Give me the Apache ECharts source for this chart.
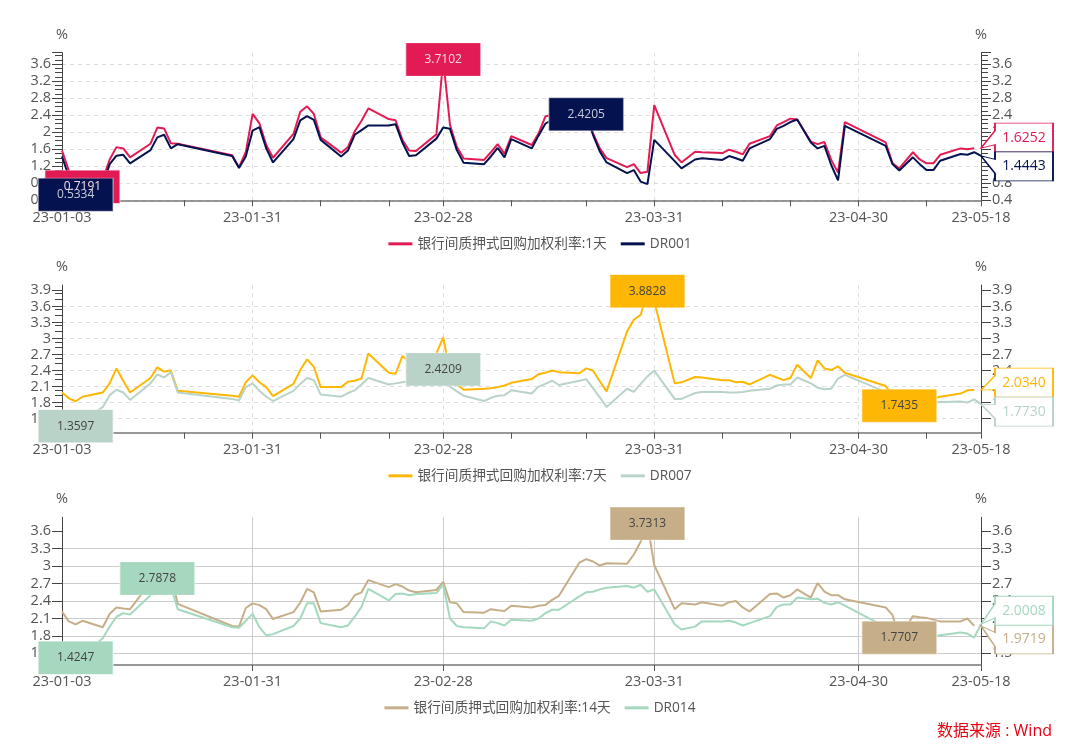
<!DOCTYPE html>
<html>
<head>
<meta charset="utf-8">
<title>银行间质押式回购加权利率与DR</title>
<style>
  html, body { margin: 0; padding: 0; background: #fff; }
  #chart { width: 1080px; height: 751px; }
</style>
<script src="https://cdn.jsdelivr.net/npm/echarts@6/dist/echarts.min.js"></script>
</head>
<body>
<div id="chart"></div>
<script>
// ============================================================
// 数据
// ============================================================

var dates = [
  '2023-01-03', '2023-01-04', '2023-01-05', '2023-01-06', '2023-01-09', '2023-01-10', '2023-01-11',
  '2023-01-12', '2023-01-13', '2023-01-16', '2023-01-17', '2023-01-18', '2023-01-19', '2023-01-20',
  '2023-01-28', '2023-01-29', '2023-01-30', '2023-01-31',
  '2023-02-01', '2023-02-02', '2023-02-03', '2023-02-06', '2023-02-07', '2023-02-08', '2023-02-09',
  '2023-02-10', '2023-02-13', '2023-02-14', '2023-02-15', '2023-02-16', '2023-02-17', '2023-02-20',
  '2023-02-21', '2023-02-22', '2023-02-23', '2023-02-24', '2023-02-27', '2023-02-28',
  '2023-03-01', '2023-03-02', '2023-03-03', '2023-03-06', '2023-03-07', '2023-03-08', '2023-03-09',
  '2023-03-10', '2023-03-13', '2023-03-14', '2023-03-15', '2023-03-16', '2023-03-17', '2023-03-20',
  '2023-03-21', '2023-03-22', '2023-03-23', '2023-03-24', '2023-03-27', '2023-03-28', '2023-03-29',
  '2023-03-30', '2023-03-31',
  '2023-04-03', '2023-04-04', '2023-04-06', '2023-04-07', '2023-04-10', '2023-04-11', '2023-04-12',
  '2023-04-13', '2023-04-14', '2023-04-17', '2023-04-18', '2023-04-19', '2023-04-20', '2023-04-21',
  '2023-04-23', '2023-04-24', '2023-04-25', '2023-04-26', '2023-04-27', '2023-04-28',
  '2023-05-04', '2023-05-05', '2023-05-06', '2023-05-08', '2023-05-09', '2023-05-10', '2023-05-11',
  '2023-05-12', '2023-05-15', '2023-05-16', '2023-05-17', '2023-05-18'
];

var repo1d = [
  1.57, 1.10, 0.85, 0.7191, 0.90, 1.36, 1.65, 1.62, 1.41, 1.73, 2.11, 2.09, 1.74, 1.73,
  1.46, 1.18, 1.54, 2.43,
  2.21, 1.70, 1.40, 1.96, 2.48, 2.61, 2.43, 1.88, 1.52, 1.65, 2.02, 2.27, 2.56, 2.31, 2.28, 1.82, 1.57, 1.56, 1.95, 3.7102,
  2.17, 1.66, 1.38, 1.35, 1.53, 1.72, 1.49, 1.91, 1.70, 1.97, 2.37, 2.42, 2.48, 2.55, 2.60, 1.98, 1.62, 1.39, 1.18, 1.25, 1.04, 1.07, 2.64,
  1.47, 1.29, 1.54, 1.53, 1.51, 1.59, 1.54, 1.48, 1.73, 1.91, 2.16, 2.24, 2.32, 2.30, 1.78, 1.72, 1.77, 1.35, 1.05, 2.24,
  1.76, 1.27, 1.15, 1.53, 1.36, 1.27, 1.27, 1.47, 1.62, 1.60, 1.6252, null
];
var dr001 = [
  1.43, 0.96, 0.5334, 0.60, 0.75, 1.25, 1.45, 1.47, 1.27, 1.58, 1.88, 1.94, 1.62, 1.72,
  1.44, 1.16, 1.43, 2.04,
  2.12, 1.62, 1.29, 1.84, 2.28, 2.38, 2.29, 1.82, 1.43, 1.57, 1.94, 2.05, 2.16, 2.16, 2.19, 1.76, 1.44, 1.46, 1.85, 2.11,
  2.08, 1.58, 1.28, 1.25, 1.43, 1.63, 1.41, 1.84, 1.62, 1.92, 2.20, 2.30, 2.35, 2.40, 2.4205, 1.94, 1.55, 1.29, 1.04, 1.11, 0.84, 0.78, 1.82,
  1.32, 1.15, 1.36, 1.39, 1.35, 1.44, 1.39, 1.33, 1.62, 1.84, 2.08, 2.15, 2.24, 2.30, 1.76, 1.62, 1.68, 1.23, 0.87, 2.15,
  1.68, 1.25, 1.10, 1.41, 1.25, 1.11, 1.11, 1.33, 1.49, 1.47, 1.53, 1.4443
];
var repo7d = [
  1.99, 1.88, 1.825, 1.91, 1.99, 2.16, 2.44, 2.21, 1.99, 2.26, 2.46, 2.38, 2.40, 2.02,
  1.93, 1.91, 2.18, 2.31,
  2.18, 2.09, 1.92, 2.15, 2.41, 2.61, 2.47, 2.09, 2.09, 2.19, 2.21, 2.25, 2.72, 2.36, 2.34, 2.67, 2.57, 2.40, 2.72, 3.02,
  2.35, 2.15, 2.04, 2.06, 2.07, 2.09, 2.12, 2.17, 2.24, 2.33, 2.36, 2.40, 2.37, 2.35, 2.44, 2.40, 2.20, 2.01, 3.13, 3.35, 3.44, 3.8828, 3.70,
  2.16, 2.18, 2.28, 2.27, 2.22, 2.22, 2.18, 2.19, 2.14, 2.32, 2.27, 2.22, 2.26, 2.51, 2.26, 2.59, 2.44, 2.41, 2.48, 2.36,
  2.11, 1.94, 1.7435, 1.85, 1.85, 1.86, 1.88, 1.91, 1.97, 2.03, 2.034, null
];
var dr007 = [
  1.62, 1.50, 1.3597, 1.45, 1.72, 1.94, 2.04, 1.99, 1.85, 2.16, 2.33, 2.27, 2.37, 1.99,
  1.87, 1.84, 2.09, 2.16,
  2.02, 1.91, 1.83, 2.02, 2.15, 2.26, 2.22, 1.95, 1.91, 1.98, 2.03, 2.14, 2.26, 2.14, 2.16, 2.18, 2.20, 2.22, 2.30, 2.4209,
  2.10, 2.01, 1.93, 1.83, 1.89, 1.93, 1.94, 2.03, 1.97, 2.10, 2.15, 2.21, 2.13, 2.21, 2.24, 2.07, 1.90, 1.72, 2.06, 2.00, 2.15, 2.29, 2.40,
  1.87, 1.87, 1.98, 2.00, 2.00, 1.99, 1.99, 2.00, 2.02, 2.06, 2.12, 2.14, 2.14, 2.27, 2.16, 2.08, 2.05, 2.06, 2.25, 2.32,
  2.00, 1.95, 1.88, 1.82, 1.80, 1.80, 1.80, 1.81, 1.82, 1.80, 1.86, 1.7730
];
var repo14d = [
  2.22, 2.05, 2.00, 2.06, 1.95, 2.18, 2.29, 2.27, 2.26, 2.72, 2.88, 2.85, 2.88, 2.35,
  1.97, 1.96, 2.28, 2.36,
  2.33, 2.26, 2.09, 2.21, 2.37, 2.61, 2.55, 2.22, 2.25, 2.33, 2.50, 2.55, 2.76, 2.64, 2.69, 2.65, 2.58, 2.55, 2.59, 2.73,
  2.38, 2.36, 2.21, 2.20, 2.26, 2.24, 2.23, 2.32, 2.29, 2.32, 2.33, 2.42, 2.49, 3.06, 3.12, 3.08, 3.01, 3.05, 3.04, 3.20, 3.42, 3.7313, 3.02,
  2.26, 2.36, 2.34, 2.38, 2.32, 2.38, 2.40, 2.29, 2.22, 2.52, 2.53, 2.46, 2.50, 2.60, 2.46, 2.71, 2.56, 2.50, 2.50, 2.43,
  2.29, 2.16, 1.7707, 2.14, 2.12, 2.11, 2.08, 2.05, 2.05, 2.10, 1.9719, null
];
var dr014 = [
  1.60, 1.50, 1.4247, 1.45, 1.76, 1.96, 2.13, 2.19, 2.17, 2.50, 2.7878, 2.70, 2.65, 2.26,
  1.95, 1.94, 2.06, 2.18,
  1.95, 1.81, 1.83, 1.97, 2.10, 2.36, 2.36, 2.02, 1.95, 1.98, 2.13, 2.30, 2.61, 2.41, 2.52, 2.53, 2.50, 2.52, 2.54, 2.68,
  2.10, 1.97, 1.95, 1.93, 2.05, 2.02, 1.98, 2.08, 2.06, 2.10, 2.19, 2.25, 2.25, 2.48, 2.55, 2.56, 2.60, 2.63, 2.66, 2.63, 2.68, 2.56, 2.60,
  2.00, 1.91, 1.96, 2.05, 2.05, 2.06, 2.03, 1.98, 2.02, 2.14, 2.30, 2.34, 2.34, 2.46, 2.43, 2.44, 2.37, 2.34, 2.38, 2.32,
  1.95, 1.88, 1.85, 1.80, 1.80, 1.80, 1.80, 1.81, 1.86, 1.84, 1.77, 2.0008
];

// x 轴刻度
var xLabelDates = ['2023-01-03', '2023-01-31', '2023-02-28', '2023-03-31', '2023-04-30', '2023-05-18'];
var xInnerDates = ['2023-01-31', '2023-02-28', '2023-03-31', '2023-04-30'];
var xExtraTickDates = ['2023-01-21', '2023-02-10', '2023-02-20', '2023-03-10', '2023-03-21', '2023-04-10', '2023-04-20', '2023-05-10'];

// y 轴刻度
var yLabels1 = [0.4, 0.8, 1.2, 1.6, 2, 2.4, 2.8, 3.2, 3.6];
var yLabels2 = [1.5, 1.8, 2.1, 2.4, 2.7, 3, 3.3, 3.6, 3.9];
var yLabels3 = [1.5, 1.8, 2.1, 2.4, 2.7, 3, 3.3, 3.6];

var FONT = '"Open Sans", "Noto Sans CJK SC", sans-serif';
var TEXT_COLOR = '#555';
var X_START = toTime('2023-01-03');
var X_END = toTime('2023-05-18');

// ============================================================
// 工具函数
// ============================================================

function toTime(s) {
  return new Date(s + 'T00:00:00').getTime();
}

function formatDay(value) {
  return echarts.time.format(value, '{yy}-{MM}-{dd}', false);
}

function pairs(values) {
  return dates.map(function(d, i) {
    return [toTime(d), values[i]];
  });
}

// 右侧气泡：尖角落在最后一个值上，tipY 是尖角距框顶的距离
function calloutItem(value, color, tipY) {
  var w = 72, h = 29, arrow = 14, mid = h / 2;
  var path = 'path://M0 ' + tipY + 'L' + arrow + ' ' + (mid - 7) + 'L' + arrow + ' 0L' + w + ' 0L' + w + ' ' + h +
    'L' + arrow + ' ' + h + 'L' + arrow + ' ' + (mid + 7) + 'Z';
  return {
    coord: [X_END, value],
    value: value,
    symbol: path,
    symbolSize: [w, h],
    symbolOffset: [w / 2, mid - tipY],
    itemStyle: { color: '#fff', borderColor: color, borderWidth: 1.2 },
    label: { color: color, fontSize: 14, offset: [7, 0] }
  };
}

function buildSeries(name, values, color, labelColor, gridIndex, callout) {
  return {
    name: name,
    type: 'line',
    xAxisIndex: gridIndex * 2,
    yAxisIndex: gridIndex * 2,
    data: pairs(values),
    color: color,
    symbol: 'none',
    connectNulls: false,
    lineStyle: { color: color, width: 2 },
    markPoint: {
      symbol: 'rect',
      symbolSize: [75, 33],
      silent: true,
      itemStyle: { color: color, borderColor: 'rgba(255,255,255,0.45)', borderWidth: 1 },
      label: {
        show: true,
        position: 'inside',
        color: labelColor,
        fontSize: 12,
        fontFamily: FONT,
        formatter: function(p) { return Number(p.value).toFixed(4); }
      },
      data: [{ type: 'max' }, { type: 'min' }, callout]
    }
  };
}

function buildYAxis(cfg, isRight) {
  var minorOn = isRight ? cfg.minorRight : cfg.minorLeft;
  return {
    type: 'value',
    gridIndex: cfg.index,
    position: isRight ? 'right' : 'left',
    min: cfg.min,
    max: cfg.max,
    interval: cfg.interval,
    name: '%',
    nameLocation: 'end',
    nameGap: 11,
    nameTextStyle: { color: TEXT_COLOR, fontSize: 14.5, fontFamily: FONT },
    axisLine: { show: true, lineStyle: { color: '#444', width: 1 } },
    axisTick: { show: true, length: 10, customValues: cfg.ticks, lineStyle: { color: '#444' } },
    axisLabel: { color: TEXT_COLOR, fontSize: 14.5, fontFamily: FONT, margin: 11, customValues: cfg.labels },
    minorTick: { show: minorOn, splitNumber: cfg.minorSplit, length: 7, lineStyle: { color: '#444' } },
    splitLine: isRight ? { show: false } : {
      show: true,
      showMaxLine: false,
      lineStyle: { color: cfg.solid ? '#ccc' : '#ddd', type: cfg.solid ? 'solid' : [4, 4], width: 1 }
    }
  };
}

function byNumber(a, b) {
  return a - b;
}

function buildXAxes(cfg) {
  var labelTimes = xLabelDates.map(toTime);
  var tickTimes = cfg.extraTicks ? labelTimes.concat(xExtraTickDates.map(toTime)).sort(byNumber) : labelTimes;
  return [{
    type: 'value',
    gridIndex: cfg.index,
    min: X_START,
    max: X_END,
    axisLine: { show: true, onZero: false, lineStyle: { color: '#777', width: 1.5 } },
    axisTick: { show: true, length: 6, customValues: tickTimes, lineStyle: { color: '#555' } },
    axisLabel: {
      color: TEXT_COLOR,
      fontSize: 14.5,
      fontFamily: FONT,
      margin: 10,
      customValues: labelTimes,
      hideOverlap: false,
      formatter: formatDay
    },
    splitLine: { show: false }
  }, {
    // 只画竖向网格线
    type: 'value',
    gridIndex: cfg.index,
    position: 'top',
    min: X_START,
    max: X_END,
    axisLine: { show: false },
    axisTick: { show: false, customValues: xInnerDates.map(toTime) },
    axisLabel: { show: false, customValues: xInnerDates.map(toTime) },
    splitLine: {
      show: true,
      lineStyle: { color: cfg.solid ? '#ccc' : '#ddd', type: cfg.solid ? 'solid' : [4, 4], width: 1 }
    }
  }];
}

// ============================================================
// 图表配置
// ============================================================

var panels = [
  { index: 0, top: 52.7, height: 147.6, legendTop: 232, min: 0.4, max: 3.87, interval: 0.4,
    labels: yLabels1, ticks: yLabels1.concat([3.87]), minorLeft: true, minorRight: true, minorSplit: 4, extraTicks: true, solid: false },
  { index: 1, top: 285, height: 147.7, legendTop: 464, min: 1.2375, max: 4.0, interval: 0.3,
    labels: yLabels2, ticks: yLabels2, minorLeft: true, minorRight: false, minorSplit: 3, extraTicks: true, solid: false },
  { index: 2, top: 517.3, height: 147.7, legendTop: 696, min: 1.3, max: 3.84, interval: 0.3,
    labels: yLabels3, ticks: yLabels3, minorLeft: false, minorRight: false, minorSplit: 3, extraTicks: false, solid: true }
];

var RED = '#E31B54', NAVY = '#04134F', GOLD = '#FDB704', PALE = '#B9D3C8', TAN = '#C6AF88', MINT = '#A5D8BF';

var allSeries = [
  buildSeries('银行间质押式回购加权利率:1天', repo1d, RED, '#F5DDE3', 0, calloutItem(1.6252, RED, 25)),
  buildSeries('DR001', dr001, NAVY, '#C6CBD8', 0, calloutItem(1.4443, NAVY, 4)),
  buildSeries('银行间质押式回购加权利率:7天', repo7d, GOLD, '#444', 1, calloutItem(2.034, GOLD, 22)),
  buildSeries('DR007', dr007, PALE, '#444', 1, calloutItem(1.773, PALE, 7)),
  buildSeries('银行间质押式回购加权利率:14天', repo14d, TAN, '#444', 2, calloutItem(1.9719, TAN, 1)),
  buildSeries('DR014', dr014, MINT, '#444', 2, calloutItem(2.0008, MINT, 28))
];

var option = {
  animation: false,
  textStyle: { fontFamily: FONT },
  title: {
    text: '数据来源 : Wind',
    right: 23,
    top: 718,
    textStyle: { color: '#E60012', fontSize: 16, fontWeight: 'normal', fontFamily: FONT }
  },
  grid: panels.map(function(p) {
    return { left: 62, right: 99, top: p.top, height: p.height };
  }),
  legend: panels.map(function(p) {
    return {
      top: p.legendTop,
      left: 'center',
      icon: 'rect',
      itemWidth: 24,
      itemHeight: 3,
      itemGap: 14,
      textStyle: { color: TEXT_COLOR, fontSize: 13.7, fontFamily: FONT },
      data: [allSeries[p.index * 2].name, allSeries[p.index * 2 + 1].name]
    };
  }),
  xAxis: panels.reduce(function(list, p) {
    return list.concat(buildXAxes(p));
  }, []),
  yAxis: panels.reduce(function(list, p) {
    return list.concat([buildYAxis(p, false), buildYAxis(p, true)]);
  }, []),
  series: allSeries
};

var chart = echarts.init(document.getElementById('chart'), null, { renderer: 'canvas' });
chart.setOption(option);
</script>
</body>
</html>
